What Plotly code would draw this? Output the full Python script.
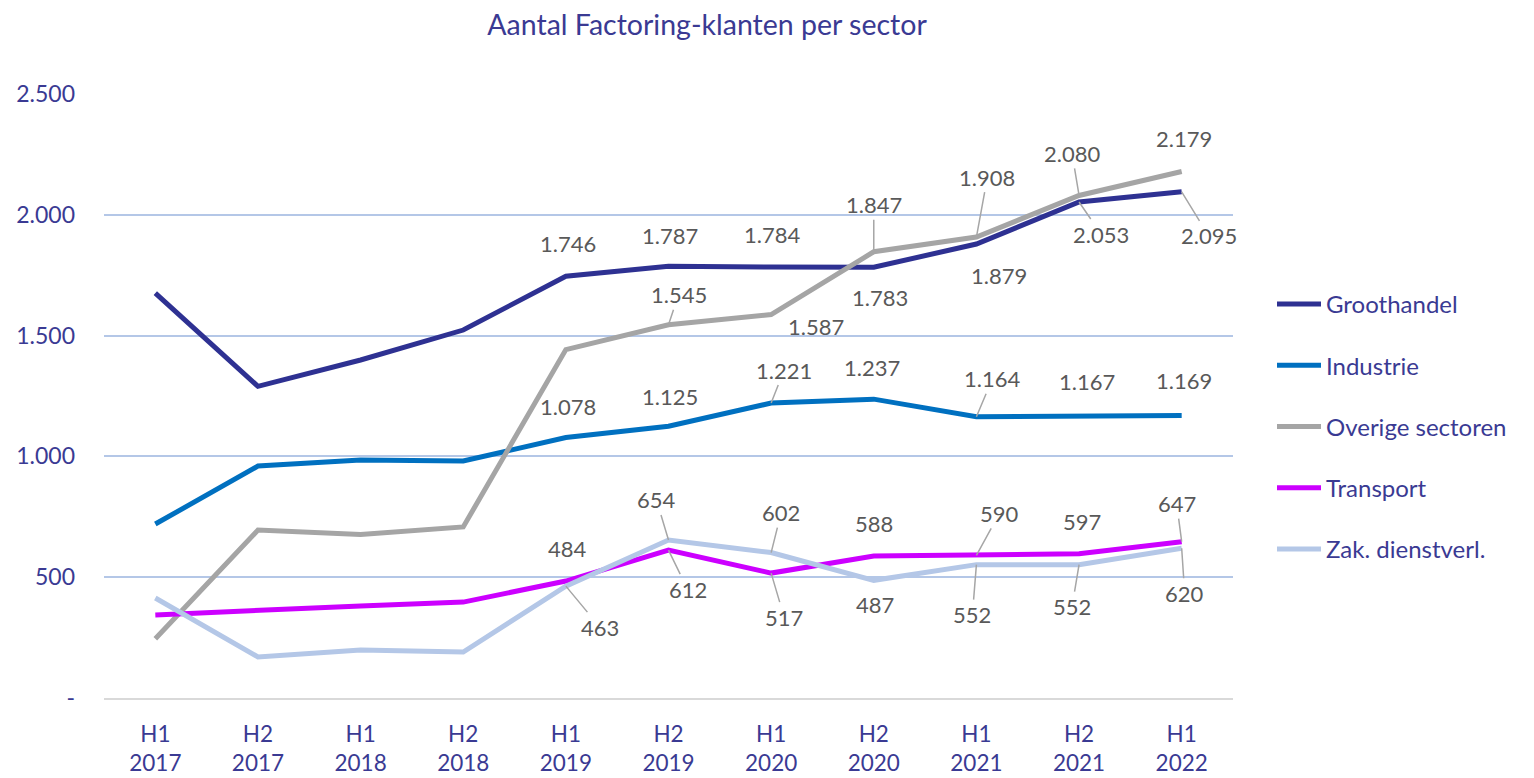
import plotly.graph_objects as go

periods = ["H1<br>2017", "H2<br>2017", "H1<br>2018", "H2<br>2018", "H1<br>2019", "H2<br>2019",
           "H1<br>2020", "H2<br>2020", "H1<br>2021", "H2<br>2021", "H1<br>2022"]

groothandel = [1676, 1290, 1399, 1523, 1746, 1787, 1784, 1783, 1879, 2053, 2095]
industrie = [720, 960, 985, 981, 1078, 1125, 1221, 1237, 1164, 1167, 1169]
overige = [245, 695, 677, 708, 1442, 1545, 1587, 1847, 1908, 2080, 2179]
transport = [344, 364, 381, 397, 484, 612, 517, 588, 590, 597, 647]
zak = [414, 170, 199, 190, 463, 654, 602, 487, 552, 552, 620]

series_names = ["Groothandel", "Industrie", "Overige sectoren", "Transport", "Zak. dienstverl."]
series_values = [groothandel, industrie, overige, transport, zak]
series_colors = ["#2E3192", "#0070C0", "#A5A5A5", "#CC00FF", "#B4C7E7"]

ytick_vals = [0, 500, 1000, 1500, 2000, 2500]
ytick_text = ["-", "500", "1.000", "1.500", "2.000", "2.500"]

# label placement (pixel offsets from the point, leader line yes/no) per series, per index
label_pos = {
    "Groothandel": {4: (2, -33, False), 5: (1, -31, False), 6: (1, -32, False), 7: (6, 30, False),
                    8: (23, 31, False), 9: (22, 32, True), 10: (27, 44, True)},
    "Industrie": {4: (2, -31, False), 5: (1, -30, False), 6: (13, -33, True), 7: (-2, -32, False),
                  8: (16, -38, True), 9: (8, -35, False), 10: (2, -35, False)},
    "Overige sectoren": {5: (10, -30, True), 6: (45, 12, False), 7: (0, -47, True),
                         8: (11, -60, True), 9: (-7, -42, True), 10: (2, -33, False)},
    "Transport": {4: (2, -33, False), 5: (19, 39, True), 6: (13, 44, True), 7: (0, -32, False),
                  8: (23, -42, True), 9: (3, -32, False), 10: (-5, -38, True)},
    "Zak. dienstverl.": {4: (34, 41, True), 5: (-12, -40, True), 6: (10, -40, True), 7: (1, 24, False),
                         8: (-4, 50, True), 9: (-7, 42, True), 10: (3, 45, True)},
}

FONT = "Lato, 'Open Sans', sans-serif"
NAVY_TEXT = "#3A3A93"

# the page body adds an 8px margin, so the figure is drawn 8px smaller and shifted
OFF = 8
W, H = 1534 - OFF, 778 - OFF


def fmt(v):
    return f"{v:,}".replace(",", ".")


fig = go.Figure()
for name, vals, col in zip(series_names, series_values, series_colors):
    fig.add_trace(go.Scatter(
        x=list(range(len(periods))), y=vals, mode="lines", name=name,
        line=dict(color=col, width=5), legendgroup=name,
    ))

annotations = []
for name, vals in zip(series_names, series_values):
    for idx, (dx, dy, leader) in label_pos[name].items():
        annotations.append(dict(
            x=idx, y=vals[idx], xref="x", yref="y", text=fmt(vals[idx]),
            showarrow=True, ax=dx, ay=dy, arrowhead=0, standoff=0,
            arrowwidth=1.5, arrowcolor="#A6A6A6" if leader else "rgba(0,0,0,0)",
            font=dict(family=FONT, size=22, color="#595959"),
        ))

fig.update_layout(
    width=W, height=H,
    margin=dict(l=104 - OFF, r=301, t=94 - OFF, b=80, autoexpand=False),
    paper_bgcolor="white", plot_bgcolor="white",
    title=dict(text="Aantal Factoring-klanten per sector", xref="container", x=(707 - OFF) / W,
               xanchor="center", y=1 - (25 - OFF) / H, yanchor="middle",
               font=dict(family=FONT, size=28.5, color=NAVY_TEXT)),
    xaxis=dict(range=[-0.5, 10.5], tickmode="array", tickvals=list(range(len(periods))),
               ticktext=periods, showgrid=False, zeroline=False, showline=True,
               linecolor="#D9D9D9", linewidth=2, ticks="", ticklabelstandoff=15,
               tickfont=dict(family=FONT, size=22.5, color=NAVY_TEXT)),
    yaxis=dict(range=[0, 2500], tickmode="array", tickvals=ytick_vals, ticktext=ytick_text,
               showgrid=True, gridcolor="#B4C7E7", gridwidth=1.5, zeroline=False,
               ticks="", ticklabelstandoff=28,
               tickfont=dict(family=FONT, size=23, color=NAVY_TEXT)),
    legend=dict(x=(1272 - 104) / 1129, xanchor="left", y=(698 - 282) / 604, yanchor="top",
                traceorder="grouped", tracegroupgap=27, bgcolor="rgba(0,0,0,0)",
                font=dict(family=FONT, size=24, color=NAVY_TEXT), itemwidth=44),
    annotations=annotations,
    showlegend=True,
)

fig.write_html("out.html")
